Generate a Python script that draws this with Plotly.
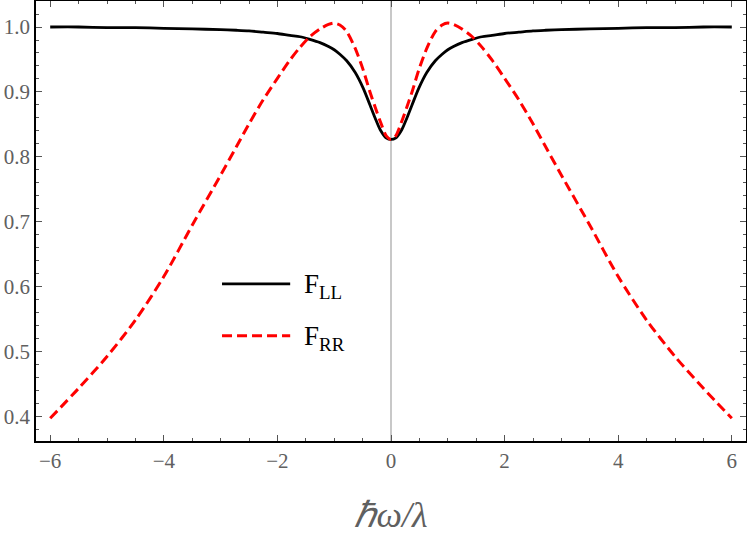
import plotly.graph_objects as go

x_vals = [-6.0, -5.5, -5.0, -4.5, -4.0, -3.5, -3.0, -2.72, -2.5, -2.25, -2.0, -1.78, -1.6,
          -1.43, -1.25, -1.1, -1.0, -0.9, -0.78, -0.63, -0.49, -0.37, -0.28, -0.19, -0.08,
          0.0,
          0.08, 0.19, 0.28, 0.37, 0.49, 0.63, 0.78, 0.9, 1.0, 1.1, 1.25, 1.43, 1.6, 1.78,
          2.0, 2.25, 2.5, 2.72, 3.0, 3.5, 4.0, 4.5, 5.0, 5.5, 6.0]

# F_LL (black solid)
f_ll = [1.000, 1.000, 0.999, 0.999, 0.998, 0.997, 0.996, 0.995, 0.994, 0.992, 0.990, 0.987, 0.985,
        0.981, 0.976, 0.970, 0.965, 0.958, 0.948, 0.930, 0.906, 0.880, 0.860, 0.842, 0.829,
        0.827,
        0.829, 0.842, 0.860, 0.880, 0.906, 0.930, 0.948, 0.958, 0.965, 0.970, 0.976, 0.981, 0.985,
        0.987, 0.990, 0.992, 0.994, 0.995, 0.996, 0.997, 0.998, 0.999, 0.999, 1.000, 1.000]

# F_RR (red dashed)
f_rr = [0.398, 0.444, 0.493, 0.549, 0.616, 0.695, 0.772, 0.816, 0.851, 0.888, 0.921, 0.949, 0.969,
        0.985, 0.997, 1.004, 1.006, 1.003, 0.993, 0.967, 0.934, 0.900, 0.877, 0.855, 0.832,
        0.827,
        0.832, 0.855, 0.877, 0.900, 0.934, 0.967, 0.993, 1.003, 1.006, 1.004, 0.997, 0.985, 0.969,
        0.949, 0.921, 0.888, 0.851, 0.816, 0.772, 0.695, 0.616, 0.549, 0.493, 0.444, 0.398]

x_ticks = [-6, -4, -2, 0, 2, 4, 6]
y_ticks = [0.4, 0.5, 0.6, 0.7, 0.8, 0.9, 1.0]
legend_labels = ["F<sub>LL</sub>", "F<sub>RR</sub>"]

SERIF = "Liberation Serif"
TICK_COLOR = "#606060"

fig = go.Figure()
fig.add_trace(go.Scatter(x=x_vals, y=f_ll, mode="lines", name=legend_labels[0],
                         line=dict(color="black", width=2.8, shape="spline", smoothing=0.8)))
fig.add_trace(go.Scatter(x=x_vals, y=f_rr, mode="lines", name=legend_labels[1],
                         line=dict(color="#ff0000", width=3, shape="spline", smoothing=0.8,
                                   dash="10px,5px")))

axis_common = dict(showgrid=False, showline=True, linecolor="black", linewidth=1.5,
                   mirror="allticks", ticks="inside", ticklen=6, tickwidth=1,
                   tickcolor="#555555", automargin=False,
                   tickfont=dict(family=SERIF, size=21, color=TICK_COLOR))

fig.update_xaxes(range=[-6.25, 6.25], tickvals=x_ticks, zeroline=True,
                 zerolinecolor="#c8c8c8", zerolinewidth=1.5,
                 minor=dict(dtick=0.5, ticks="inside", ticklen=3.5, tickcolor="#555555"),
                 title=dict(text="ℏω/λ", standoff=33,
                            font=dict(family=SERIF, size=36, color=TICK_COLOR, style="italic")),
                 **axis_common)
fig.update_yaxes(range=[0.363, 1.04], tickvals=y_ticks, tickformat=".1f", zeroline=False,
                 minor=dict(dtick=0.02, ticks="inside", ticklen=3.5, tickcolor="#555555"),
                 **axis_common)

# manual legend (line samples + labels)
legend_rows = [(0.357, "black", "solid", 2.8), (0.239, "#ff0000", "10px,5px", 3)]
for (yy, col, dsh, lw), lab in zip(legend_rows, legend_labels):
    fig.add_shape(type="line", xref="paper", yref="paper", x0=0.262, x1=0.358, y0=yy, y1=yy,
                  line=dict(color=col, width=lw, dash=dsh))
    fig.add_annotation(xref="paper", yref="paper", x=0.375, y=yy - 0.005, xanchor="left",
                       yanchor="middle", text=lab, showarrow=False,
                       font=dict(family=SERIF, size=27, color="black"))

fig.update_layout(width=747, height=535, showlegend=False,
                  margin=dict(l=36, r=1, t=1, b=94),
                  plot_bgcolor="white", paper_bgcolor="white")

fig.write_html("out.html", config={"displayModeBar": False},
               post_script="document.body.style.margin='0';"
                           "document.body.style.overflow='hidden';")
